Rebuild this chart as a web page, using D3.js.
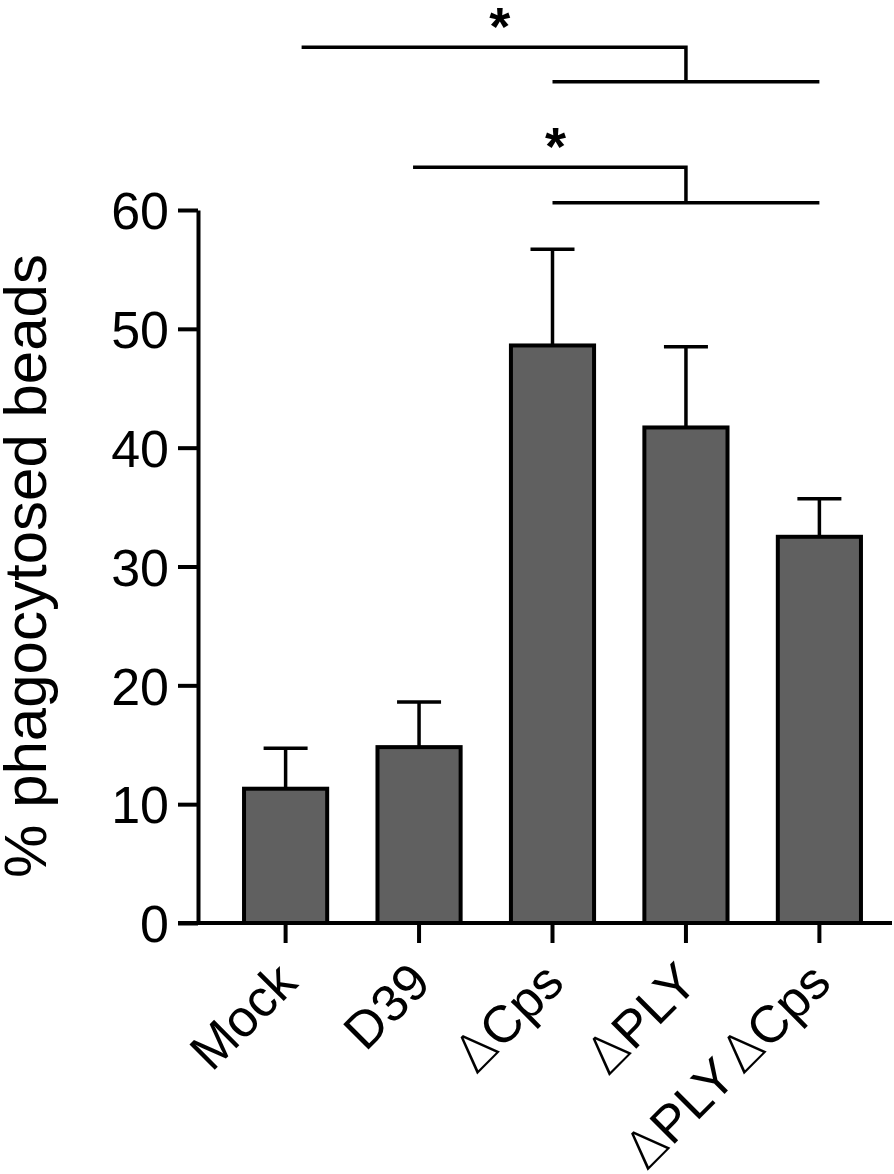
<!DOCTYPE html>
<html>
<head>
<meta charset="utf-8">
<script src="https://cdn.jsdelivr.net/npm/d3@7"></script>
<style>
  body { margin: 0; background: white; }
  #myPlot { width: 894px; height: 1174px; }
  svg text { font-family: "Liberation Sans", Arial, sans-serif; fill: black; }
  .delta { font-family: "DejaVu Sans", sans-serif; font-weight: 200; }
  .gap { font-size: 22px; }
</style>
</head>
<body>
<div id="myPlot"></div>
<script>
const groups = ["Mock", "D39", "ΔCps", "ΔPLY", "ΔPLY ΔCps"]
const means = [11.3, 14.8, 48.6, 41.7, 32.5]
const errorTops = [14.7, 18.6, 56.7, 48.5, 35.7]   // mean + SD
const yTicks = [0, 10, 20, 30, 40, 50, 60]
const yLabel = "% phagocytosed beads"

// significance: left group vs. the pair on the right
const sigFrom = ["Mock", "D39"]
const sigToLeft = ["ΔCps", "ΔCps"]
const sigToRight = ["ΔPLY ΔCps", "ΔPLY ΔCps"]
const sigMarks = ["*", "*"]
const sigLevels = [[73.7, 70.8], [63.6, 60.6]]    // upper / lower line, in axis units

const rootSelector = "#myPlot"
const clientWidth = 894
const clientHeight = 1174

const svg = d3.select(rootSelector).append("svg")
    .attr("width", clientWidth)
    .attr("height", clientHeight)

const axisX = 198
const zeroY = 923
const topY = 210

const x = d3.scaleBand()
    .domain(groups)
    .range([axisX, 907])
    .paddingInner(0.377)
    .paddingOuter(0.345)

const y = d3.scaleLinear()
    .domain([0, 60])
    .range([zeroY, topY])

const cx = g => x(g) + x.bandwidth() / 2

// y axis
const yAxis = d3.axisLeft(y)
    .tickValues(yTicks)
    .tickSize(20)
    .tickSizeOuter(0)
    .tickPadding(9)

const yG = svg.append("g")
    .attr("transform", `translate(${axisX}, 0)`)
    .call(yAxis)
yG.select(".domain").attr("stroke-width", 4).attr("stroke", "black")
yG.selectAll(".tick line").attr("stroke-width", 4).attr("stroke", "black")
yG.selectAll(".tick text")
    .attr("font-size", 52)
    .attr("dy", "0.36em")
    .attr("fill", "black")
    .style("font-family", "'Liberation Sans', Arial, sans-serif")

// x axis
const xAxis = d3.axisBottom(x)
    .tickSize(20)
    .tickSizeOuter(0)
    .tickFormat("")

const xG = svg.append("g")
    .attr("transform", `translate(0, ${zeroY})`)
    .call(xAxis)
xG.select(".domain").remove()
xG.selectAll(".tick line").attr("stroke-width", 4).attr("stroke", "black")
xG.append("line")
    .attr("x1", axisX - 20)
    .attr("x2", 892)
    .attr("stroke", "black")
    .attr("stroke-width", 4)

// x labels, rotated
groups.forEach(g => {
    const t = svg.append("text")
        .attr("transform", `translate(${cx(g) + 14}, ${zeroY + 62}) rotate(-45)`)
        .attr("text-anchor", "end")
        .attr("font-size", 52)
    g.split(/(Δ| )/).filter(s => s.length).forEach(part => {
        t.append("tspan")
            .attr("class", part === "Δ" ? "delta" : part === " " ? "gap" : null)
            .text(part)
    })
})

// y title
svg.append("text")
    .attr("transform", `translate(46, 566) rotate(-90)`)
    .attr("text-anchor", "middle")
    .attr("font-size", 60)
    .text(yLabel)

// error bars
const errG = svg.append("g")
groups.forEach((g, i) => {
    errG.append("line")
        .attr("x1", cx(g)).attr("x2", cx(g))
        .attr("y1", y(means[i])).attr("y2", y(errorTops[i]))
        .attr("stroke", "black").attr("stroke-width", 3.5)
    errG.append("line")
        .attr("x1", cx(g) - 22).attr("x2", cx(g) + 22)
        .attr("y1", y(errorTops[i])).attr("y2", y(errorTops[i]))
        .attr("stroke", "black").attr("stroke-width", 3.5)
})

// bars
svg.selectAll(".bar")
    .data(groups)
    .enter().append("rect")
    .attr("class", "bar")
    .attr("x", g => x(g))
    .attr("width", x.bandwidth())
    .attr("y", (g, i) => y(means[i]))
    .attr("height", (g, i) => zeroY - y(means[i]))
    .attr("fill", "#606060")
    .attr("stroke", "black")
    .attr("stroke-width", 4)

// significance brackets
const sigG = svg.append("g")
sigMarks.forEach((mark, i) => {
    const yTop = y(sigLevels[i][0])
    const yLow = y(sigLevels[i][1])
    const xL = cx(sigToLeft[i])
    const xR = cx(sigToRight[i])
    const xMid = (xL + xR) / 2
    const xFrom = cx(sigFrom[i]) + (i === 0 ? 16 : -6)
    const path = d3.path()
    path.moveTo(xFrom, yTop)
    path.lineTo(xMid, yTop)
    path.lineTo(xMid, yLow)
    path.moveTo(xL, yLow)
    path.lineTo(xR, yLow)
    sigG.append("path")
        .attr("d", path.toString())
        .attr("fill", "none")
        .attr("stroke", "black")
        .attr("stroke-width", 3.5)
    sigG.append("text")
        .attr("x", (xFrom + xMid) / 2 + 6)
        .attr("y", yTop - 2)
        .attr("text-anchor", "middle")
        .attr("font-size", 54)
        .attr("font-weight", "bold")
        .text(mark)
})
</script>
</body>
</html>
